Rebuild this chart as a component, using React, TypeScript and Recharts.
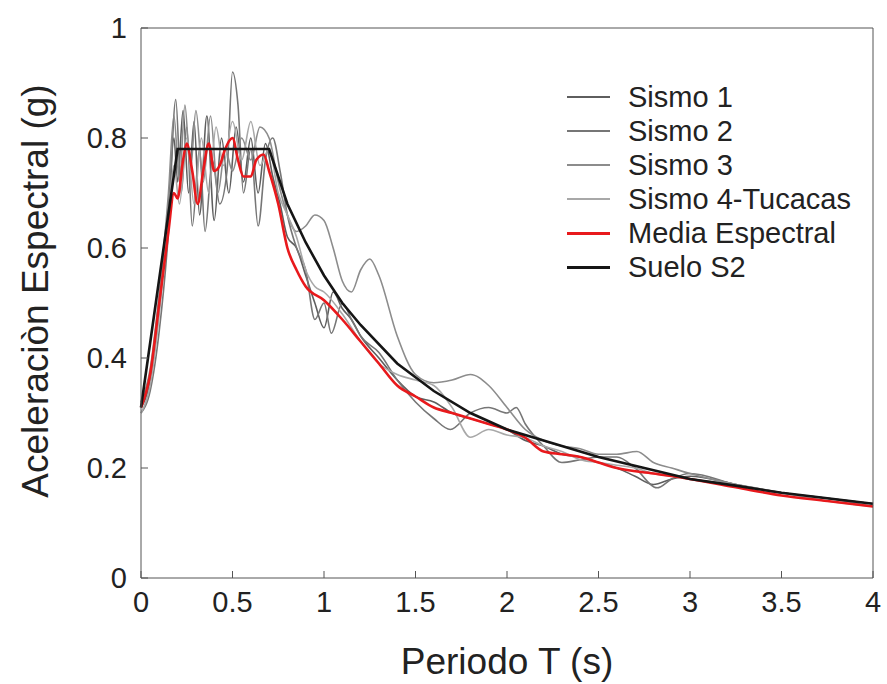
import { LineChart, Line, XAxis, YAxis, Legend, Label } from 'recharts';

// [periodo T (s), aceleración (g)]
const sismo1: [number, number][] = [
  [0, 0.31], [0.05, 0.36], [0.1, 0.5], [0.15, 0.68], [0.18, 0.8], [0.2, 0.72], [0.23, 0.85],
  [0.26, 0.7], [0.29, 0.83], [0.32, 0.66], [0.36, 0.84], [0.4, 0.65], [0.44, 0.8], [0.48, 0.7],
  [0.52, 0.82], [0.56, 0.72], [0.6, 0.8], [0.64, 0.7], [0.68, 0.79], [0.72, 0.73], [0.76, 0.68],
  [0.8, 0.62], [0.85, 0.6], [0.9, 0.55], [0.95, 0.5], [1.0, 0.455], [1.05, 0.52], [1.1, 0.49],
  [1.15, 0.47], [1.2, 0.44], [1.3, 0.4], [1.4, 0.36], [1.5, 0.33], [1.6, 0.32], [1.7, 0.3],
  [1.8, 0.29], [1.9, 0.28], [2.0, 0.27], [2.1, 0.25], [2.2, 0.24], [2.3, 0.225], [2.4, 0.22],
  [2.5, 0.21], [2.6, 0.2], [2.7, 0.185], [2.8, 0.17], [2.9, 0.18], [3.0, 0.185], [3.25, 0.17],
  [3.5, 0.155], [3.75, 0.145], [4.0, 0.135],
];

const sismo2: [number, number][] = [
  [0, 0.3], [0.05, 0.34], [0.1, 0.45], [0.15, 0.63], [0.19, 0.87], [0.22, 0.7], [0.25, 0.82],
  [0.28, 0.64], [0.32, 0.78], [0.35, 0.63], [0.39, 0.76], [0.43, 0.68], [0.47, 0.74], [0.5, 0.92],
  [0.53, 0.86], [0.56, 0.7], [0.6, 0.78], [0.64, 0.64], [0.68, 0.76], [0.72, 0.8], [0.76, 0.74],
  [0.8, 0.66], [0.85, 0.6], [0.9, 0.56], [0.95, 0.47], [1.0, 0.5], [1.04, 0.445], [1.1, 0.5],
  [1.15, 0.47], [1.2, 0.44], [1.3, 0.41], [1.4, 0.36], [1.5, 0.32], [1.6, 0.29], [1.69, 0.27],
  [1.8, 0.3], [1.9, 0.31], [2.0, 0.3], [2.05, 0.31], [2.1, 0.28], [2.2, 0.24], [2.3, 0.21],
  [2.4, 0.215], [2.5, 0.22], [2.6, 0.22], [2.7, 0.2], [2.82, 0.164], [2.9, 0.18], [3.0, 0.19],
  [3.25, 0.17], [3.5, 0.155], [3.75, 0.145], [4.0, 0.135],
];

const sismo3: [number, number][] = [
  [0, 0.32], [0.05, 0.38], [0.1, 0.52], [0.15, 0.7], [0.18, 0.84], [0.21, 0.72], [0.24, 0.86],
  [0.27, 0.74], [0.3, 0.85], [0.34, 0.72], [0.38, 0.84], [0.42, 0.7], [0.46, 0.78], [0.5, 0.74],
  [0.55, 0.8], [0.6, 0.76], [0.65, 0.82], [0.7, 0.8], [0.75, 0.72], [0.8, 0.66], [0.85, 0.63],
  [0.9, 0.64], [0.95, 0.66], [1.0, 0.65], [1.05, 0.6], [1.1, 0.54], [1.15, 0.52], [1.2, 0.56],
  [1.25, 0.58], [1.3, 0.55], [1.4, 0.44], [1.5, 0.37], [1.6, 0.355], [1.7, 0.36], [1.8, 0.37],
  [1.9, 0.35], [2.0, 0.31], [2.1, 0.27], [2.2, 0.25], [2.3, 0.24], [2.4, 0.235], [2.5, 0.225],
  [2.6, 0.225], [2.71, 0.23], [2.8, 0.21], [2.9, 0.2], [3.0, 0.19], [3.25, 0.17], [3.5, 0.155],
  [3.75, 0.145], [4.0, 0.13],
];

const sismo4: [number, number][] = [
  [0, 0.3], [0.05, 0.35], [0.1, 0.48], [0.15, 0.66], [0.18, 0.75], [0.21, 0.68], [0.25, 0.8],
  [0.29, 0.68], [0.33, 0.8], [0.37, 0.7], [0.41, 0.82], [0.45, 0.75], [0.5, 0.83], [0.55, 0.76],
  [0.6, 0.83], [0.65, 0.75], [0.7, 0.78], [0.75, 0.7], [0.8, 0.66], [0.85, 0.62], [0.9, 0.56],
  [0.95, 0.53], [1.0, 0.52], [1.1, 0.48], [1.2, 0.43], [1.3, 0.39], [1.4, 0.37], [1.5, 0.36],
  [1.6, 0.35], [1.7, 0.31], [1.8, 0.256], [1.9, 0.27], [2.0, 0.26], [2.1, 0.255], [2.2, 0.24],
  [2.3, 0.23], [2.4, 0.215], [2.5, 0.21], [2.6, 0.205], [2.7, 0.2], [2.8, 0.19], [2.9, 0.185],
  [3.0, 0.18], [3.25, 0.17], [3.5, 0.155], [3.75, 0.14], [4.0, 0.13],
];

const mediaEspectral: [number, number][] = [
  [0, 0.31], [0.05, 0.37], [0.1, 0.5], [0.15, 0.63], [0.18, 0.7], [0.2, 0.69], [0.23, 0.76],
  [0.25, 0.79], [0.28, 0.74], [0.31, 0.68], [0.34, 0.74], [0.37, 0.79], [0.4, 0.74], [0.43, 0.75],
  [0.46, 0.78], [0.5, 0.8], [0.53, 0.76], [0.56, 0.73], [0.6, 0.73], [0.63, 0.76], [0.67, 0.77],
  [0.7, 0.74], [0.75, 0.68], [0.8, 0.6], [0.85, 0.56], [0.9, 0.53], [1.0, 0.505], [1.1, 0.47],
  [1.2, 0.43], [1.3, 0.39], [1.4, 0.35], [1.5, 0.33], [1.6, 0.31], [1.7, 0.3], [1.8, 0.29],
  [1.9, 0.28], [2.0, 0.27], [2.1, 0.255], [2.2, 0.23], [2.3, 0.225], [2.4, 0.22], [2.5, 0.21],
  [2.6, 0.2], [2.8, 0.19], [3.0, 0.18], [3.25, 0.165], [3.5, 0.15], [3.75, 0.14], [4.0, 0.13],
];

const sueloS2: [number, number][] = [
  [0, 0.31], [0.2, 0.78], [0.7, 0.78], [0.8, 0.68], [0.9, 0.61], [1.0, 0.55], [1.1, 0.5],
  [1.2, 0.46], [1.4, 0.39], [1.6, 0.34], [1.8, 0.3], [2.0, 0.27], [2.25, 0.245], [2.5, 0.22],
  [2.75, 0.2], [3.0, 0.18], [3.25, 0.168], [3.5, 0.155], [3.75, 0.145], [4.0, 0.135],
];

const xTicks = [0, 0.5, 1, 1.5, 2, 2.5, 3, 3.5, 4];
const yTicks = [0, 0.2, 0.4, 0.6, 0.8, 1];

const toPoints = (pairs: [number, number][]) => pairs.map(([t, a]) => ({ t, a }));

const series = [
  { name: 'Sismo 1', data: sismo1, color: '#5e5e5e', width: 1.6, curve: 'monotone' },
  { name: 'Sismo 2', data: sismo2, color: '#767676', width: 1.6, curve: 'monotone' },
  { name: 'Sismo 3', data: sismo3, color: '#8c8c8c', width: 1.6, curve: 'monotone' },
  { name: 'Sismo 4-Tucacas', data: sismo4, color: '#a8a8a8', width: 1.6, curve: 'monotone' },
  { name: 'Media Espectral', data: mediaEspectral, color: '#e8191c', width: 2.6, curve: 'monotone' },
  { name: 'Suelo S2', data: sueloS2, color: '#151515', width: 2.6, curve: 'linear' },
];

const font = '"Liberation Sans", Arial, sans-serif';

const LegendBox = () => (
  <div style={{ fontFamily: font, fontSize: 29, color: '#222' }}>
    {series.map((s) => (
      <div key={s.name} style={{ display: 'flex', alignItems: 'center', height: 34 }}>
        <div style={{ width: 43, height: s.width + 0.4, background: s.color, marginRight: 18 }} />
        <span>{s.name}</span>
      </div>
    ))}
  </div>
);

const App = () => {
  return (
    <div style={{ position: 'absolute', left: 0, top: 0, background: '#fff' }}>
      <LineChart width={887} height={684} margin={{ top: 27, right: 13, left: 0, bottom: 0 }}>
        <XAxis
          dataKey="t"
          type="number"
          domain={[0, 4]}
          ticks={xTicks}
          height={106}
          stroke="#555"
          tickSize={-7}
          tickMargin={20}
          tick={{ fill: '#222', fontSize: 29, fontFamily: font }}
          allowDuplicatedCategory={false}
        >
          <Label value="Periodo T (s)" position="center" dy={30} style={{ fill: '#222', fontSize: 37, fontFamily: font }} />
        </XAxis>
        <XAxis xAxisId="top" orientation="top" dataKey="t" type="number" domain={[0, 4]} ticks={xTicks} height={1} stroke="#555" tickSize={-7} tick={false} allowDuplicatedCategory={false} />
        <YAxis
          type="number"
          domain={[0, 1]}
          ticks={yTicks}
          width={141}
          stroke="#555"
          tickSize={-7}
          tickMargin={21}
          tick={{ fill: '#222', fontSize: 29, fontFamily: font }}
        >
          <Label value="Aceleraciòn Espectral (g)" angle={-90} position="center" dx={-36} dy={-12} style={{ fill: '#222', fontSize: 37, fontFamily: font, textAnchor: 'middle' }} />
        </YAxis>
        <YAxis yAxisId="right" orientation="right" type="number" domain={[0, 1]} ticks={yTicks} width={1} stroke="#555" tickSize={-7} tick={false} />
        <Legend
          layout="vertical"
          align="center"
          verticalAlign="middle"
          content={() => <LegendBox />}
          wrapperStyle={{ left: 567, top: 80, width: 318 }}
        />
        {series.map((s) => (
          <Line
            key={s.name}
            name={s.name}
            data={toPoints(s.data)}
            dataKey="a"
            type={s.curve as 'monotone' | 'linear'}
            stroke={s.color}
            strokeWidth={s.width}
            dot={false}
            activeDot={false}
            isAnimationActive={false}
          />
        ))}
      </LineChart>
    </div>
  );
};

export default App;
